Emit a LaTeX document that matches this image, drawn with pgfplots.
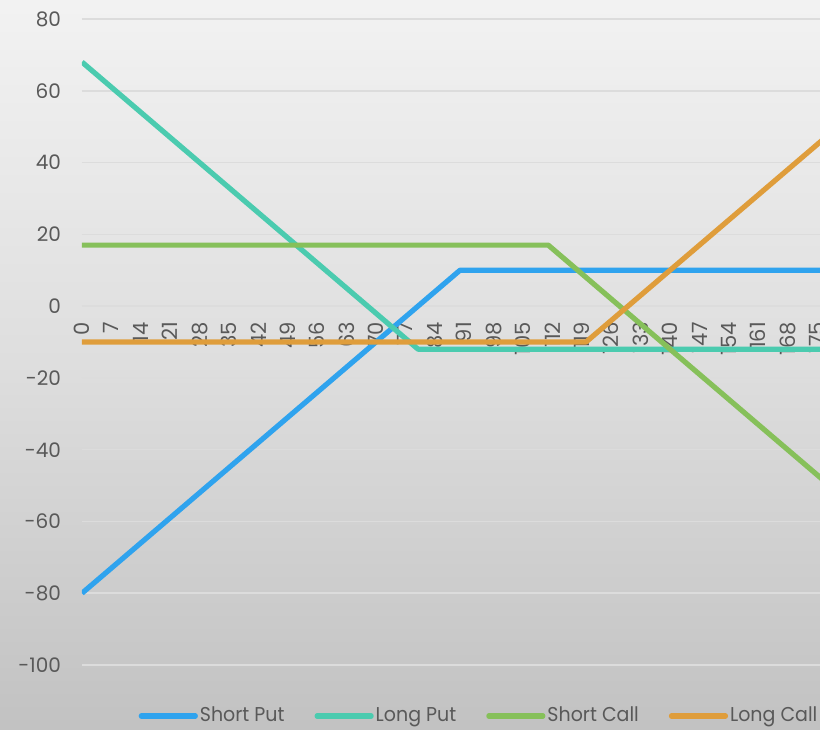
\documentclass[border=0pt]{standalone}
\usepackage{fontspec}
\setmainfont{Poppins}
\newfontfamily\legfont[FakeStretch=0.95]{Poppins}
\usepackage{pgfplots}
\pgfplotsset{compat=1.18}

\definecolor{shortput}{HTML}{2FA3EE}
\definecolor{longput}{HTML}{4BCBAF}
\definecolor{shortcall}{HTML}{86C05A}
\definecolor{longcall}{HTML}{DF9D3B}
\definecolor{txt}{HTML}{595959}
\definecolor{gridc}{HTML}{DCDCDC}

\begin{document}
\begin{tikzpicture}
  % chart background (1px = 0.5pt)
  \shade[top color=black!5, bottom color=black!24, middle color=black!13]
    (-41pt,-32pt) rectangle (369pt,332.5pt);
  \begin{axis}[
    name=ax,
    scale only axis,
    width=369pt, height=323pt,
    xmin=0, xmax=175.7,
    ymin=-100, ymax=80,
    axis x line*=middle,
    axis y line*=left,
    axis line style={draw=none},
    hide obscured x ticks=false,
    hide obscured y ticks=false,
    major tick length=0pt,
    ytick={-100,-80,...,80},
    yticklabels={-100,-80,-60,-40,-20,0,20,40,60,80},
    xtick={0,7,...,175},
    ymajorgrids, xmajorgrids=false,
    grid style={draw=gridc, line width=0.8pt},
    tick label style={text=txt},
    yticklabel style={font=\fontsize{10}{12}\selectfont, xshift=-7pt},
    % shifts act in the rotated frame: xshift<0 moves the labels down
    xticklabel style={font=\fontsize{10.5}{12}\selectfont, rotate=90, anchor=east, xshift=-4.5pt},
    /pgf/number format/assume math mode=true,
    clip=true,
    legend columns=4,
    legend style={
      at={(0.538,-0.079)}, anchor=center,
      draw=none, fill=none,
      font=\legfont\fontsize{10}{12}\selectfont, text=txt,
      /tikz/every even column/.append style={column sep=14pt},
      nodes={inner sep=1pt},
    },
    legend image code/.code={\draw[#1, line cap=round] (0pt,0pt) -- (27pt,0pt);},
    every axis plot/.append style={line width=2.6pt, line join=round},
  ]
    \addplot[shortput] coordinates {(0,-80) (90,10) (180,10)};
    \addlegendentry{Short Put}
    \addplot[longput] coordinates {(0,68) (80,-12) (180,-12)};
    \addlegendentry{Long Put}
    \addplot[shortcall] coordinates {(0,17) (111,17) (180,-52)};
    \addlegendentry{Short Call}
    \addplot[longcall] coordinates {(0,-10) (120,-10) (180,50)};
    \addlegendentry{Long Call}
  \end{axis}
  \pgfresetboundingbox
  \path[use as bounding box] (-41pt,-32pt) rectangle (369pt,332.5pt);
\end{tikzpicture}
\end{document}
